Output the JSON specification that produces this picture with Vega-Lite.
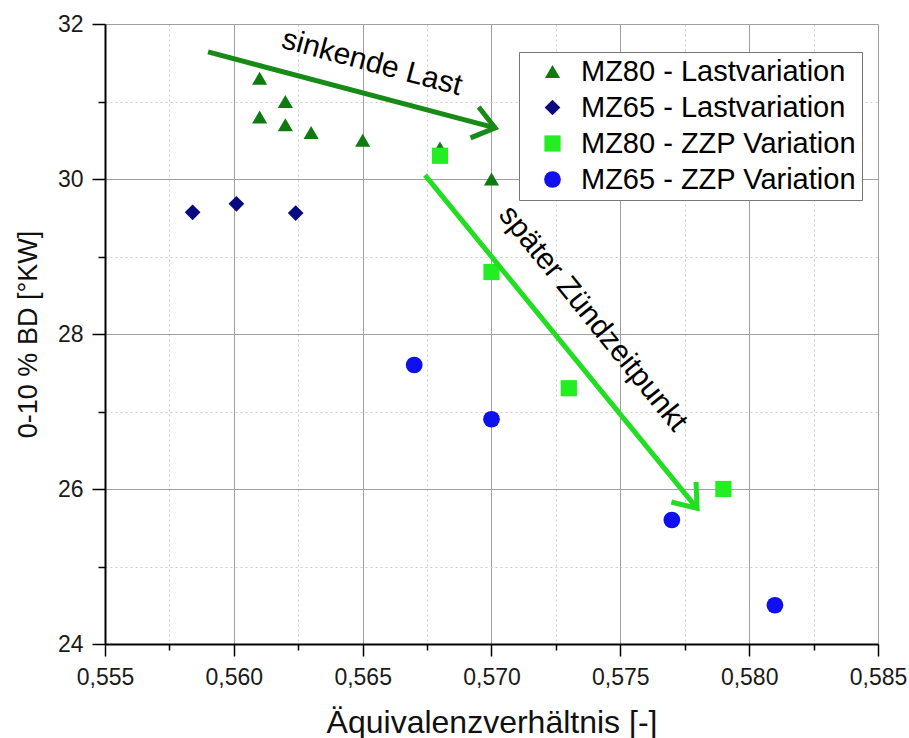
{
  "$schema": "https://vega.github.io/schema/vega-lite/v6.json",
  "width": 773,
  "height": 620,
  "autosize": {"type": "none"},
  "padding": {"left": 105, "top": 24, "right": 31, "bottom": 94},
  "background": "white",
  "config": {
    "view": {"stroke": null},
    "font": "Liberation Sans",
    "axis": {
      "labelFont": "Liberation Sans",
      "titleFont": "Liberation Sans",
      "titleFontWeight": "normal",
      "labelColor": "#1a1a1a",
      "titleColor": "#111111",
      "domainColor": "#000000",
      "domainWidth": 2,
      "tickColor": "#000000",
      "tickWidth": 1.5
    },
    "legend": {
      "labelFont": "Liberation Sans",
      "labelFontSize": 29,
      "labelColor": "#000000"
    }
  },
  "datasets": {
    "points": [
      {"series": "MZ80 - Lastvariation", "ratio": 0.561, "bd": 31.3},
      {"series": "MZ80 - Lastvariation", "ratio": 0.562, "bd": 31.0},
      {"series": "MZ80 - Lastvariation", "ratio": 0.561, "bd": 30.8},
      {"series": "MZ80 - Lastvariation", "ratio": 0.562, "bd": 30.7},
      {"series": "MZ80 - Lastvariation", "ratio": 0.563, "bd": 30.6},
      {"series": "MZ80 - Lastvariation", "ratio": 0.565, "bd": 30.5},
      {"series": "MZ80 - Lastvariation", "ratio": 0.568, "bd": 30.4},
      {"series": "MZ80 - Lastvariation", "ratio": 0.570, "bd": 30.0},
      {"series": "MZ65 - Lastvariation", "ratio": 0.5584, "bd": 29.57},
      {"series": "MZ65 - Lastvariation", "ratio": 0.5601, "bd": 29.68},
      {"series": "MZ65 - Lastvariation", "ratio": 0.5624, "bd": 29.56},
      {"series": "MZ80 - ZZP Variation", "ratio": 0.568, "bd": 30.3},
      {"series": "MZ80 - ZZP Variation", "ratio": 0.570, "bd": 28.8},
      {"series": "MZ80 - ZZP Variation", "ratio": 0.573, "bd": 27.3},
      {"series": "MZ80 - ZZP Variation", "ratio": 0.579, "bd": 26.0},
      {"series": "MZ65 - ZZP Variation", "ratio": 0.567, "bd": 27.6},
      {"series": "MZ65 - ZZP Variation", "ratio": 0.570, "bd": 26.9},
      {"series": "MZ65 - ZZP Variation", "ratio": 0.577, "bd": 25.6},
      {"series": "MZ65 - ZZP Variation", "ratio": 0.581, "bd": 24.5}
    ],
    "arrows": [
      {"name": "load", "x": 0.559, "y": 31.64, "x2": 0.57014, "y2": 30.66, "dir": 14.8},
      {"name": "ignition", "x": 0.56742, "y": 30.05, "x2": 0.57798, "y2": 25.75, "dir": 50.8}
    ],
    "labels": [
      {"name": "load", "text": "sinkende Last", "x": 0.56536, "y": 31.5},
      {"name": "ignition", "text": "später Zündzeitpunkt", "x": 0.57394, "y": 28.2}
    ]
  },
  "layer": [
    {
      "data": {"name": "points"},
      "mark": {"type": "point", "filled": true, "opacity": 1},
      "encoding": {
        "x": {
          "field": "ratio", "type": "quantitative",
          "scale": {"domain": [0.555, 0.585], "nice": false, "zero": false},
          "axis": {
            "title": "Äquivalenzverhältnis [-]",
            "titleFontSize": 32,
            "titleBaseline": "alphabetic",
            "titleY": 88,
            "labelFontSize": 23,
            "values": [0.555, 0.5575, 0.56, 0.5625, 0.565, 0.5675, 0.57, 0.5725, 0.575, 0.5775, 0.58, 0.5825, 0.585],
            "labelExpr": "round(datum.value*400)%2==1 ? '' : replace(format(datum.value, '.3f'), '.', ',')",
            "grid": true,
            "gridColor": {"condition": {"test": "round(datum.value*400)%2==1", "value": "#cccccc"}, "value": "#a0a0a0"},
            "gridDash": {"condition": {"test": "round(datum.value*400)%2==1", "value": [2, 3]}, "value": []},
            "tickSize": {"condition": {"test": "round(datum.value*400)%2==1", "value": 6}, "value": 12},
            "labelPadding": 10,
            "labelFlush": false
          }
        },
        "y": {
          "field": "bd", "type": "quantitative",
          "scale": {"domain": [24, 32], "nice": false, "zero": false},
          "axis": {
            "title": "0-10 % BD [°KW]",
            "titleFontSize": 27,
            "titleBaseline": "alphabetic",
            "titleX": -69,
            "labelFontSize": 23,
            "values": [24, 25, 26, 27, 28, 29, 30, 31, 32],
            "labelExpr": "round(datum.value)%2==1 ? '' : format(datum.value, 'd')",
            "grid": true,
            "gridColor": {"condition": {"test": "round(datum.value)%2==1", "value": "#cccccc"}, "value": "#a0a0a0"},
            "gridDash": {"condition": {"test": "round(datum.value)%2==1", "value": [2, 3]}, "value": []},
            "tickSize": {"condition": {"test": "round(datum.value)%2==1", "value": 7}, "value": 13},
            "labelPadding": 9,
            "labelFlush": false
          }
        },
        "color": {
          "field": "series", "type": "nominal",
          "scale": {
            "domain": ["MZ80 - Lastvariation", "MZ65 - Lastvariation", "MZ80 - ZZP Variation", "MZ65 - ZZP Variation"],
            "range": ["#0f7a12", "#0a0a80", "#22ee22", "#1010ee"]
          },
          "legend": {
            "title": null,
            "orient": "none",
            "legendX": 414,
            "legendY": 28,
            "fillColor": "white",
            "strokeColor": "#777777",
            "padding": 5,
            "symbolOffset": 14,
            "labelOffset": 14,
            "rowPadding": 6,
            "labelLimit": 400
          }
        },
        "shape": {
          "field": "series", "type": "nominal",
          "scale": {
            "domain": ["MZ80 - Lastvariation", "MZ65 - Lastvariation", "MZ80 - ZZP Variation", "MZ65 - ZZP Variation"],
            "range": ["triangle-up", "diamond", "square", "circle"]
          }
        },
        "size": {
          "field": "series", "type": "nominal",
          "scale": {
            "domain": ["MZ80 - Lastvariation", "MZ65 - Lastvariation", "MZ80 - ZZP Variation", "MZ65 - ZZP Variation"],
            "range": [230, 280, 160, 140]
          }
        }
      }
    },
    {
      "data": {"name": "arrows"},
      "transform": [{"filter": "datum.name == 'load'"}],
      "mark": {"type": "rule", "color": "#178a17", "strokeWidth": 5},
      "encoding": {
        "x": {"field": "x", "type": "quantitative"},
        "y": {"field": "y", "type": "quantitative"},
        "x2": {"field": "x2"},
        "y2": {"field": "y2"}
      }
    },
    {
      "data": {"name": "arrows"},
      "transform": [{"filter": "datum.name == 'ignition'"}],
      "mark": {"type": "rule", "color": "#22dd22", "strokeWidth": 5},
      "encoding": {
        "x": {"field": "x", "type": "quantitative"},
        "y": {"field": "y", "type": "quantitative"},
        "x2": {"field": "x2"},
        "y2": {"field": "y2"}
      }
    },
    {
      "data": {"name": "arrows"},
      "transform": [{"filter": "datum.name == 'load'"}],
      "mark": {"type": "point", "shape": "M -1 -0.75 L 0 0 L -1 0.75", "filled": false, "color": "#178a17", "strokeWidth": 5, "size": 1800, "opacity": 1, "strokeJoin": "miter"},
      "encoding": {
        "x": {"field": "x2", "type": "quantitative"},
        "y": {"field": "y2", "type": "quantitative"},
        "angle": {"field": "dir", "type": "quantitative", "scale": null}
      }
    },
    {
      "data": {"name": "arrows"},
      "transform": [{"filter": "datum.name == 'ignition'"}],
      "mark": {"type": "point", "shape": "M -1 -0.75 L 0 0 L -1 0.75", "filled": false, "color": "#22dd22", "strokeWidth": 5, "size": 1800, "opacity": 1, "strokeJoin": "miter"},
      "encoding": {
        "x": {"field": "x2", "type": "quantitative"},
        "y": {"field": "y2", "type": "quantitative"},
        "angle": {"field": "dir", "type": "quantitative", "scale": null}
      }
    },
    {
      "data": {"name": "labels"},
      "transform": [{"filter": "datum.name == 'load'"}],
      "mark": {"type": "text", "angle": 15, "fontSize": 30, "font": "Liberation Sans", "color": "#000000", "align": "center", "baseline": "middle"},
      "encoding": {
        "x": {"field": "x", "type": "quantitative"},
        "y": {"field": "y", "type": "quantitative"},
        "text": {"field": "text"}
      }
    },
    {
      "data": {"name": "labels"},
      "transform": [{"filter": "datum.name == 'ignition'"}],
      "mark": {"type": "text", "angle": 51, "fontSize": 30, "font": "Liberation Sans", "color": "#000000", "align": "center", "baseline": "middle"},
      "encoding": {
        "x": {"field": "x", "type": "quantitative"},
        "y": {"field": "y", "type": "quantitative"},
        "text": {"field": "text"}
      }
    }
  ]
}
